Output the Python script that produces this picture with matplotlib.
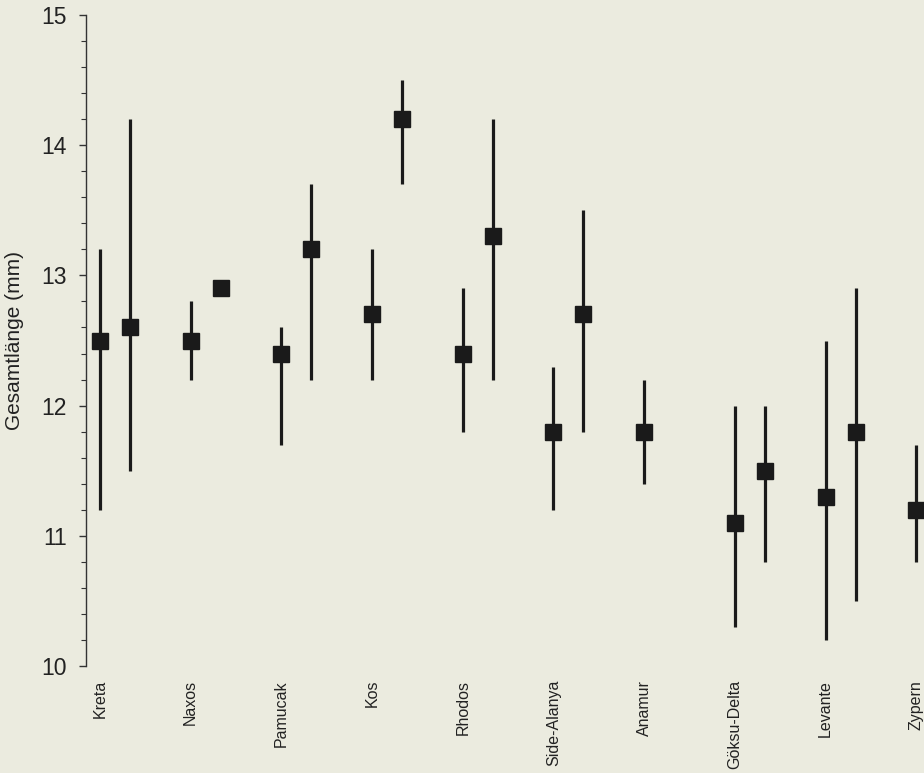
import numpy as np
import matplotlib.pyplot as plt

plt.rcParams['font.family'] = ['Liberation Sans', 'DejaVu Sans']

# Fundorte
orte = ['Kreta', 'Naxos', 'Pamucak', 'Kos', 'Rhodos', 'Side-Alanya',
        'Anamur', 'Göksu-Delta', 'Levante', 'Zypern']

# Reihe 1 (linker Punkt je Fundort): Mittelwert, Minimum, Maximum
mittel1 = [12.5, 12.5, 12.4, 12.7, 12.4, 11.8, 11.8, 11.1, 11.3, 11.2]
min1 = [11.2, 12.2, 11.7, 12.2, 11.8, 11.2, 11.4, 10.3, 10.2, 10.8]
max1 = [13.2, 12.8, 12.6, 13.2, 12.9, 12.3, 12.2, 12.0, 12.5, 11.7]

# Reihe 2 (rechter Punkt je Fundort)
mittel2 = [12.6, 12.9, 13.2, 14.2, 13.3, 12.7, np.nan, 11.5, 11.8, np.nan]
min2 = [11.5, 12.9, 12.2, 13.7, 12.2, 11.8, np.nan, 10.8, 10.5, np.nan]
max2 = [14.2, 12.9, 13.7, 14.5, 14.2, 13.5, np.nan, 12.0, 12.9, np.nan]

bg = '#ebebdf'
farbe = '#1a1a1a'

fig = plt.figure(figsize=(9.24, 7.73), dpi=100, facecolor=bg)
ax = fig.add_axes([0.0931, 0.1384, 0.9069, 0.8422], facecolor=bg)

x = np.arange(len(orte))
versatz = 0.33

for xs, m, lo, hi in [(x, mittel1, min1, max1),
                      (x + versatz, mittel2, min2, max2)]:
    m = np.array(m)
    err = [m - np.array(lo), np.array(hi) - m]
    ax.errorbar(xs, m, yerr=err, fmt='s', color=farbe, ecolor=farbe,
                elinewidth=2.3, capsize=0, markersize=11.5, clip_on=False)

ax.set_xlim(-0.154, 9.085)
ax.set_ylim(10, 15)

for s in ['top', 'right', 'bottom']:
    ax.spines[s].set_visible(False)
ax.spines['left'].set_color('#333333')
ax.spines['left'].set_linewidth(1.0)

ax.set_yticks([10, 11, 12, 13, 14, 15])
ax.set_yticks(np.arange(10, 15.01, 0.2), minor=True)
ax.tick_params(axis='y', which='major', direction='out', length=5,
               width=1, labelsize=16.5, pad=9, colors='#333333',
               labelcolor='#222222')
ax.tick_params(axis='y', which='minor', direction='out', length=3.5,
               width=0.8, colors='#333333')

ax.set_xticks(x)
ax.set_xticklabels(orte, rotation=90, va='top', fontsize=11.5, color='#222222')
ax.tick_params(axis='x', length=0, pad=10)

ax.set_ylabel('Gesamtlänge (mm)', fontsize=15, color='#222222', labelpad=12)

fig.savefig('out.png', dpi=100, facecolor=bg)
